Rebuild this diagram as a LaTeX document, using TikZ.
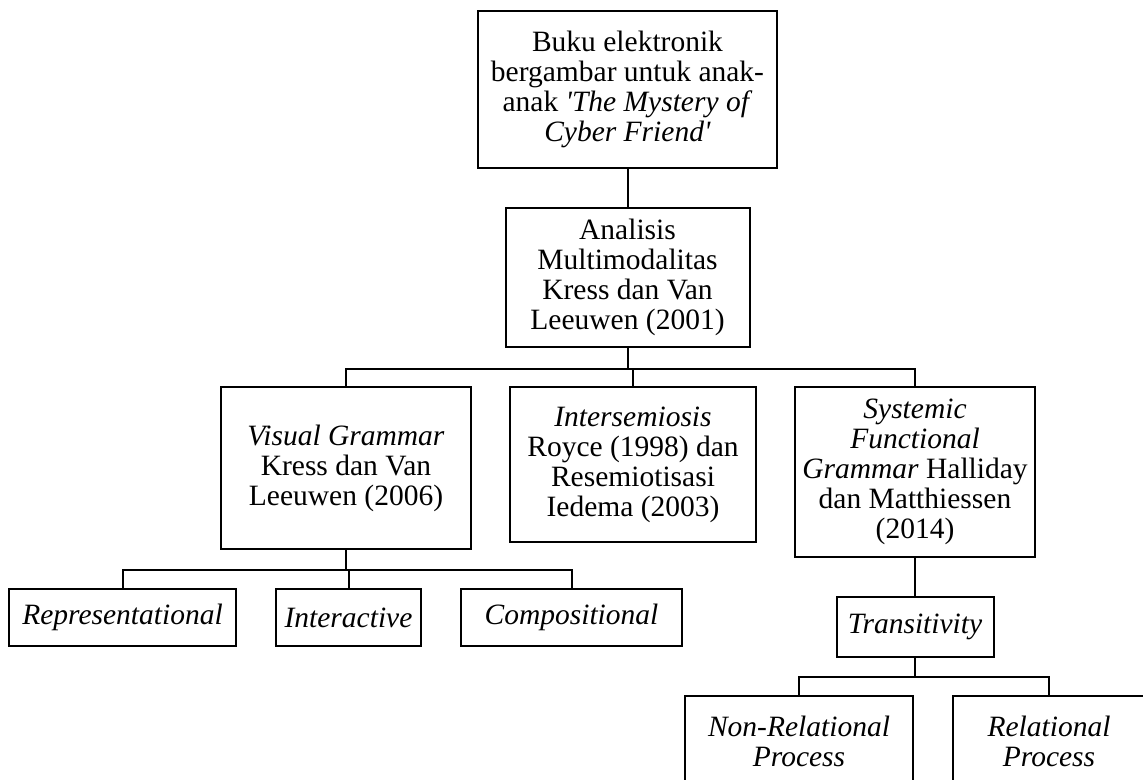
\documentclass[tikz,border=0pt]{standalone}
\usepackage{fontspec}
\newfontfamily\tnr{Liberation Serif}
\begin{document}
\begin{tikzpicture}[x=1pt,y=-1pt,
  box/.style={draw, line width=2pt, inner sep=0pt, align=center,
    font=\tnr\fontsize{29.5}{30}\selectfont},
  conn/.style={line width=2pt}]
\clip (0,0) rectangle (1143,779);
% nodes
\node[box, minimum width=299, minimum height=157] (top) at (627.5,89.5)
  {Buku elektronik\\bergambar untuk anak-\\anak \textit{'The Mystery of}\\\textit{Cyber Friend'}};
\node[box, minimum width=244, minimum height=139] (ana) at (627.5,277.5)
  {Analisis\\Multimodalitas\\Kress dan Van\\Leeuwen (2001)};
\node[box, minimum width=250, minimum height=162] (vg) at (346,468)
  {\textit{Visual Grammar}\\Kress dan Van\\Leeuwen (2006)};
\node[box, minimum width=246, minimum height=155] (ints) at (633,464.5)
  {\textit{Intersemiosis}\\Royce (1998) dan\\Resemiotisasi\\Iedema (2003)};
\node[box, minimum width=240, minimum height=170] (sfg) at (915,472)
  {\textit{Systemic}\\\textit{Functional}\\\textit{Grammar} Halliday\\dan Matthiessen\\(2014)};
\node[box, minimum width=227, minimum height=57] (rep) at (122.5,617.5)
  {\textit{Representational}};
\node[box, minimum width=145, minimum height=57] (inter) at (348.5,617.5)
  {\textit{Interactive}};
\node[box, minimum width=221, minimum height=57] (comp) at (571.5,617.5)
  {\textit{Compositional}};
\node[box, minimum width=157, minimum height=60] (trans) at (915,627)
  {\textit{Transitivity}};
\node[box, minimum width=228, minimum height=90] (nonrel) at (799,741)
  {\textit{Non-Relational}\\\textit{Process}};
\node[box, minimum width=192, minimum height=90] (rel) at (1049,741)
  {\textit{Relational}\\\textit{Process}};
% connectors
\draw[conn] (top.south) -- (ana.north);
\draw[conn] (ana.south) -- ++(0,21) coordinate (b1);
\draw[conn] (vg.north) |- (b1) -| (sfg.north);
\draw[conn] (ints.north) -- (ints.north |- b1);
\draw[conn] (vg.south) -- ++(0,20) coordinate (b2);
\draw[conn] (rep.north) |- (b2) -| (comp.north);
\draw[conn] (inter.north) -- (inter.north |- b2);
\draw[conn] (sfg.south) -- (trans.north);
\draw[conn] (trans.south) -- ++(0,19) coordinate (b3);
\draw[conn] (nonrel.north) |- (b3) -| (rel.north);
\end{tikzpicture}
\end{document}
